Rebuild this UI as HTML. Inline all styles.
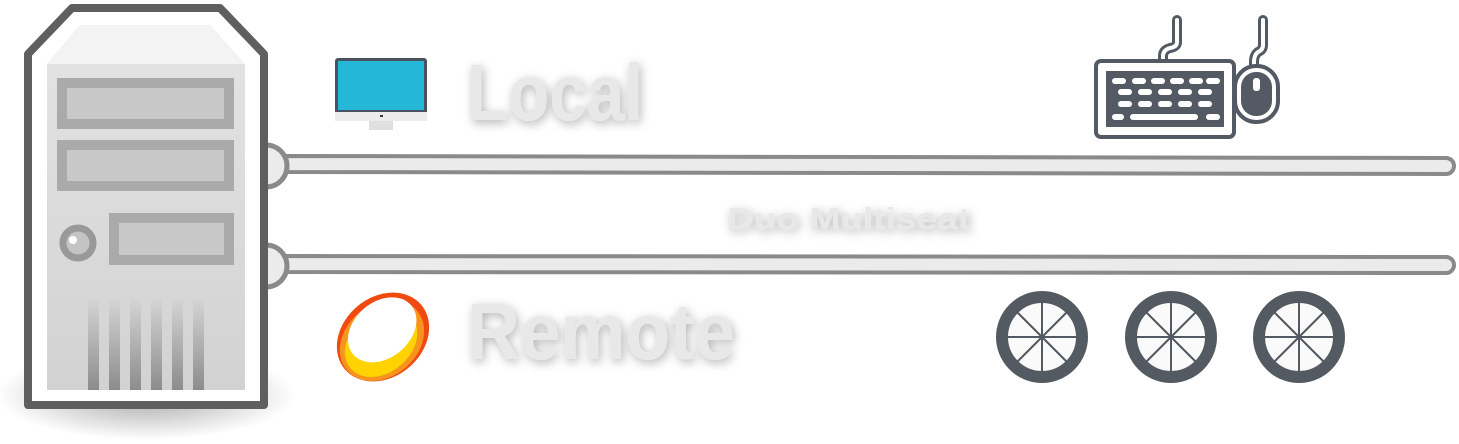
<!DOCTYPE html>
<html><head><meta charset="utf-8"><style>
html,body{margin:0;padding:0;background:#fff;width:1459px;height:444px;overflow:hidden}
text{font-family:"Liberation Sans",sans-serif;font-weight:bold;fill:#e8e8e8}
</style></head><body>
<svg width="1459" height="444" viewBox="0 0 1459 444" xmlns="http://www.w3.org/2000/svg">
<defs>
<filter id="sh" x="-20%" y="-40%" width="140%" height="180%"><feDropShadow dx="2" dy="3" stdDeviation="5" flood-color="#000" flood-opacity="0.3"/></filter>
<radialGradient id="gs" cx="0.5" cy="0.5" r="0.5"><stop offset="0" stop-color="#000" stop-opacity="0.35"/><stop offset="1" stop-color="#000" stop-opacity="0"/></radialGradient>
<linearGradient id="vent" x1="0" y1="0" x2="0" y2="1"><stop offset="0" stop-color="#d4d4d4"/><stop offset="1" stop-color="#8c8c8c"/></linearGradient>
<linearGradient id="panel" x1="0" y1="0" x2="0" y2="1"><stop offset="0" stop-color="#e4e4e4"/><stop offset="1" stop-color="#d2d2d2"/></linearGradient>
</defs>
<ellipse cx="146" cy="395" rx="150" ry="45" fill="url(#gs)"/>
<g>
<path d="M280 156 L1446 158 A8 8 0 0 1 1446 174 L280 172 Z" fill="#ebebeb" stroke="#8a8a8a" stroke-width="4"/>
<path d="M280 256 L1446 257 A8 8 0 0 1 1446 273 L280 272 Z" fill="#ebebeb" stroke="#8a8a8a" stroke-width="4"/>
<circle cx="266" cy="166" r="21" fill="#ebebeb" stroke="#8a8a8a" stroke-width="5"/>
<circle cx="266" cy="266" r="21" fill="#ebebeb" stroke="#8a8a8a" stroke-width="5"/>
</g>
<path d="M72 8 L220 8 L264 54 L264 405 L28 405 L28 54 Z" fill="#fff" stroke="#5f5f5f" stroke-width="8" stroke-linejoin="round"/>
<path d="M80 25 L210 25 L245 64 L245 390 L47 390 L47 64 Z" fill="url(#panel)"/>
<path d="M80 25 L210 25 L245 64 L47 64 Z" fill="#f3f3f3"/>
<rect x="62" y="83" width="167" height="41" fill="#c8c8c8" stroke="#aaa" stroke-width="10"/>
<rect x="62" y="145" width="167" height="41" fill="#c8c8c8" stroke="#aaa" stroke-width="10"/>
<rect x="114" y="218" width="115" height="42" fill="#c8c8c8" stroke="#aaa" stroke-width="10"/>
<circle cx="78" cy="243" r="15" fill="#c4c4c4" stroke="#999" stroke-width="7"/>
<circle cx="73" cy="240" r="4" fill="#fff"/>
<g fill="url(#vent)">
<rect x="88" y="300" width="11" height="90"/><rect x="109" y="300" width="11" height="90"/><rect x="130" y="300" width="11" height="90"/><rect x="151" y="300" width="11" height="90"/><rect x="172" y="300" width="11" height="90"/><rect x="193" y="300" width="11" height="90"/>
</g>
<rect x="335" y="58" width="92" height="62" rx="3" fill="#4a5260"/>
<rect x="338" y="61" width="86" height="49" fill="#24b8d8"/>
<rect x="335" y="112" width="92" height="9" fill="#ececec"/>
<rect x="369" y="121" width="24" height="9" fill="#e0e0e0"/>
<rect x="380" y="115" width="3" height="2" fill="#2a3a4a"/>
<text x="467" y="120" font-size="80" textLength="176" lengthAdjust="spacingAndGlyphs" filter="url(#sh)">Local</text>
<text x="467" y="359" font-size="80" textLength="268" lengthAdjust="spacingAndGlyphs" filter="url(#sh)">Remote</text>
<text x="727" y="229" font-size="31" textLength="243" lengthAdjust="spacingAndGlyphs" filter="url(#sh)">Duo Multiseat</text>
<g transform="translate(383 337) rotate(-40)">
<ellipse cx="0" cy="0" rx="50" ry="40" fill="#f04a10"/>
<ellipse cx="-3" cy="2" rx="46" ry="36" fill="#f7941d"/>
<ellipse cx="-5" cy="3" rx="40" ry="30" fill="#ffd200"/>
<ellipse cx="4" cy="-6" rx="38" ry="28" fill="#fff"/>
</g>
<g fill="none" stroke="#535a63" stroke-linecap="round" stroke-linejoin="round">
<path d="M1177 20 V42 Q1177 47 1170 48 Q1163 50 1163 56 V63" stroke-width="10"/>
<path d="M1177 20 V42 Q1177 47 1170 48 Q1163 50 1163 56 V63" stroke="#fff" stroke-width="4"/>
<path d="M1263 20 V45 Q1263 50 1258 52 Q1254 55 1254 62 V67" stroke-width="10"/>
<path d="M1263 20 V45 Q1263 50 1258 52 Q1254 55 1254 62 V67" stroke="#fff" stroke-width="4"/>
</g>
<rect x="1096" y="61" width="138" height="76" rx="5" fill="#fff" stroke="#535a63" stroke-width="4"/>
<rect x="1106" y="71" width="118" height="56" fill="#535a63"/>
<g fill="#fff">
<rect x="1112" y="78" width="14" height="6" rx="3"/><rect x="1132" y="78" width="14" height="6" rx="3"/><rect x="1151" y="78" width="14" height="6" rx="3"/><rect x="1170" y="78" width="14" height="6" rx="3"/><rect x="1189" y="78" width="14" height="6" rx="3"/><rect x="1206" y="78" width="14" height="6" rx="3"/>
<rect x="1118" y="89" width="14" height="6" rx="3"/><rect x="1138" y="89" width="14" height="6" rx="3"/><rect x="1158" y="89" width="14" height="6" rx="3"/><rect x="1178" y="89" width="14" height="6" rx="3"/><rect x="1198" y="89" width="14" height="6" rx="3"/>
<rect x="1118" y="101" width="14" height="6" rx="3"/><rect x="1138" y="101" width="14" height="6" rx="3"/><rect x="1158" y="101" width="14" height="6" rx="3"/><rect x="1178" y="101" width="14" height="6" rx="3"/><rect x="1198" y="101" width="14" height="6" rx="3"/>
<rect x="1112" y="114" width="12" height="6" rx="3"/><rect x="1130" y="114" width="68" height="6" rx="3"/><rect x="1206" y="114" width="14" height="6" rx="3"/>
</g>
<rect x="1235" y="66" width="43" height="56" rx="21" fill="#fff" stroke="#535a63" stroke-width="4"/>
<rect x="1241" y="72" width="31" height="44" rx="15" fill="#535a63"/>
<rect x="1253" y="78" width="7" height="13" rx="3" fill="#fff"/>
<g stroke="#545a62">
<g transform="translate(1042 337)"><circle r="40" fill="#fafafa" stroke-width="12"/><g stroke-width="2"><line x1="-35" y1="0" x2="35" y2="0"/><line x1="0" y1="-35" x2="0" y2="35"/><line x1="-25" y1="-25" x2="25" y2="25"/><line x1="-25" y1="25" x2="25" y2="-25"/></g></g>
<g transform="translate(1171 337)"><circle r="40" fill="#fafafa" stroke-width="12"/><g stroke-width="2"><line x1="-35" y1="0" x2="35" y2="0"/><line x1="0" y1="-35" x2="0" y2="35"/><line x1="-25" y1="-25" x2="25" y2="25"/><line x1="-25" y1="25" x2="25" y2="-25"/></g></g>
<g transform="translate(1299 337)"><circle r="40" fill="#fafafa" stroke-width="12"/><g stroke-width="2"><line x1="-35" y1="0" x2="35" y2="0"/><line x1="0" y1="-35" x2="0" y2="35"/><line x1="-25" y1="-25" x2="25" y2="25"/><line x1="-25" y1="25" x2="25" y2="-25"/></g></g>
</g>
</svg>
</body></html>
